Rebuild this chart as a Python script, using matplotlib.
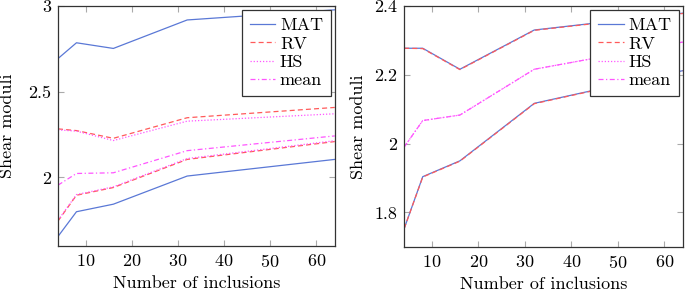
import matplotlib
matplotlib.use("Agg")
import matplotlib.pyplot as plt

plt.rcParams['font.family'] = ['cmr10', 'DejaVu Serif']
plt.rcParams['mathtext.fontset'] = 'cm'
plt.rcParams['axes.formatter.use_mathtext'] = True

# number of inclusions
n_incl = [4, 8, 16, 32, 64]

# left panel (upper / lower bounds)
left_mat_up = [2.693, 2.785, 2.752, 2.918, 2.977]
left_mat_lo = [1.656, 1.800, 1.844, 2.008, 2.105]
left_rv_up = [2.283, 2.273, 2.228, 2.348, 2.408]
left_rv_lo = [1.746, 1.896, 1.941, 2.105, 2.209]
left_hs_up = [2.277, 2.270, 2.215, 2.328, 2.371]
left_hs_lo = [1.750, 1.900, 1.945, 2.110, 2.214]
left_mean = [1.955, 2.023, 2.027, 2.156, 2.242]

# right panel
right_mat_up = [2.277, 2.277, 2.216, 2.330, 2.379]
right_mat_lo = [1.753, 1.904, 1.950, 2.117, 2.212]
right_rv_up = [2.277, 2.276, 2.215, 2.329, 2.378]
right_rv_lo = [1.753, 1.903, 1.949, 2.116, 2.211]
right_hs = [1.990, 2.067, 2.083, 2.216, 2.295]
right_mean = [1.990, 2.067, 2.083, 2.216, 2.295]

blue = '#5a78d6'
red = '#ff5a5a'
mag = '#ff55ff'
lw = 0.9
fs = 13

fig = plt.figure(figsize=(6.85, 2.95), dpi=100)
ax1 = fig.add_axes([0.0847, 0.166, 0.404, 0.814])
ax2 = fig.add_axes([0.590, 0.163, 0.407, 0.817])


def draw(ax, mat, rv, hs, mean):
    ax.plot(n_incl, mat[0], color=blue, lw=lw, label='MAT')
    ax.plot(n_incl, mat[1], color=blue, lw=lw)
    ax.plot(n_incl, rv[0], color=red, lw=lw, ls=(0, (4, 2.5)), label='RV')
    ax.plot(n_incl, rv[1], color=red, lw=lw, ls=(0, (4, 2.5)))
    ax.plot(n_incl, hs[0], color=mag, lw=lw, ls=(0, (1, 1.5)), label='HS')
    if hs[1] is not None:
        ax.plot(n_incl, hs[1], color=mag, lw=lw, ls=(0, (1, 1.5)))
    ax.plot(n_incl, mean, color=mag, lw=lw, ls=(0, (4, 2, 1, 2)), label='mean')
    ax.set_xlim(4, 64)
    ax.set_xticks([10, 20, 30, 40, 50, 60])
    ax.set_xlabel('Number of inclusions', fontsize=fs, labelpad=4)
    ax.set_ylabel('Shear moduli', fontsize=fs)
    ax.tick_params(direction='in', top=True, right=True, length=4,
                   color='#aaaaaa', labelsize=fs, pad=5)
    for s in ax.spines.values():
        s.set_linewidth(0.9)
        s.set_color('#333333')
    leg = ax.legend(loc='upper right', fontsize=fs, frameon=True, fancybox=False,
                    edgecolor='#333333', framealpha=1, handlelength=1.4,
                    borderpad=0.45, labelspacing=0.15, handletextpad=0.25,
                    borderaxespad=0.2)
    leg.get_frame().set_linewidth(0.9)


draw(ax1, (left_mat_up, left_mat_lo), (left_rv_up, left_rv_lo),
     (left_hs_up, left_hs_lo), left_mean)
ax1.set_ylim(1.6, 3.0)
ax1.set_yticks([2, 2.5, 3])
ax1.set_yticklabels(['2', '2.5', '3'])
ax1.yaxis.set_label_coords(-0.155, 0.5)

draw(ax2, (right_mat_up, right_mat_lo), (right_rv_up, right_rv_lo),
     (right_hs, None), right_mean)
ax2.set_ylim(1.7, 2.4)
ax2.set_yticks([1.8, 2.0, 2.2, 2.4])
ax2.set_yticklabels(['1.8', '2', '2.2', '2.4'])
ax2.yaxis.set_label_coords(-0.136, 0.5)

fig.savefig('out.png', dpi=100)
